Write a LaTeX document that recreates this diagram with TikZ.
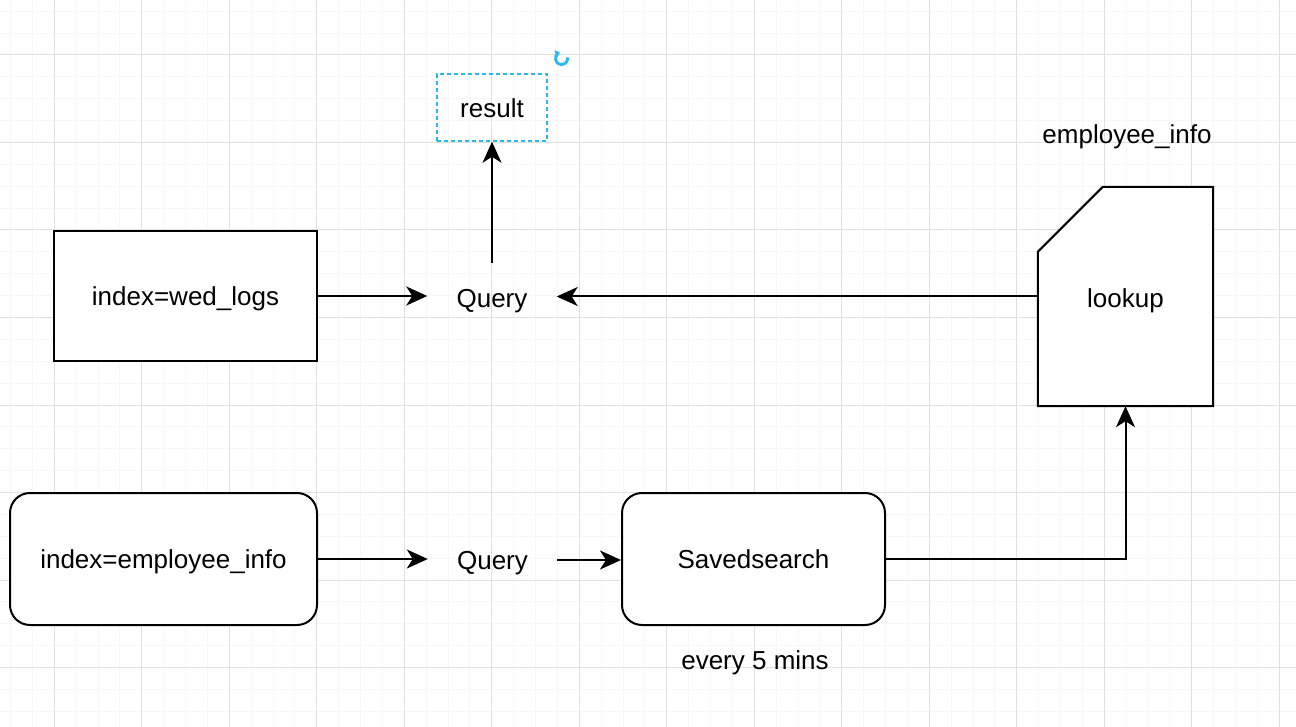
\documentclass[tikz,border=0pt]{standalone}
\usepackage{fontspec}
\setmainfont{Liberation Sans}
\usetikzlibrary{arrows.meta,calc}
\definecolor{gridminor}{HTML}{F7F7F7}
\definecolor{gridmajor}{HTML}{E0E0E0}
\definecolor{selblue}{HTML}{29B6F2}
\tikzset{
  lbl/.style={font=\fontsize{26}{30}\selectfont, text height=25pt, text depth=5.5pt, inner sep=0pt},
  box/.style={lbl, draw, line width=2pt},
  conn/.style={line width=2pt, -{Stealth[length=21pt,width=19pt,inset=6pt]}},
  qnode/.style={lbl, minimum width=129pt, minimum height=70pt},
}
\begin{document}
\begin{tikzpicture}[x=1pt,y=-1pt]
\useasboundingbox (0,0) rectangle (1296,727);
\fill[white] (0,0) rectangle (1296,727);
% grid
\foreach \i in {0,...,59} {
  \draw[gridminor, line width=1pt] ({10.55+21.875*\i},0) -- ({10.55+21.875*\i},727);
}
\foreach \j in {0,...,33} {
  \draw[gridminor, line width=1pt] (0,{11.25+21.875*\j}) -- (1296,{11.25+21.875*\j});
}
\foreach \i in {0,...,14} {
  \draw[gridmajor, line width=1pt] ({54.3+87.5*\i},0) -- ({54.3+87.5*\i},727);
}
\foreach \j in {0,...,7} {
  \draw[gridmajor, line width=1pt] (0,{55+87.5*\j}) -- (1296,{55+87.5*\j});
}
% nodes
\node[box, fill=white, minimum width=263pt, minimum height=130pt] (wed) at (185.5,296) {index=wed\_logs};
\node[qnode] (q1) at (492,298) {Query};
\node[lbl, draw=selblue, line width=1.5pt, dash pattern=on 4pt off 3pt, minimum width=110pt, minimum height=67pt] (result) at (492,107.5) {result};
\coordinate (rot) at (561.5,58.5);
\node[lbl, minimum width=175pt, minimum height=219pt] (lookup) at (1125.5,296.5) {};
\draw[line width=2pt, fill=white] (lookup.south west) -- (lookup.south east) -- (lookup.north east)
  -- ($(lookup.north west)+(65pt,0pt)$) -- ($(lookup.north west)+(0pt,-65pt)$) -- cycle;
\node[lbl] (lookuptxt) at (1125.5,298) {lookup};
\node[lbl] (empinfo) at (1127,134) {employee\_info};
\node[box, fill=white, rounded corners=20pt, minimum width=307pt, minimum height=132pt] (emp) at (163.5,559) {index=employee\_info};
\node[qnode] (q2) at (492.5,560) {Query};
\node[box, fill=white, rounded corners=20pt, minimum width=263pt, minimum height=132pt] (saved) at (753.5,559) {Savedsearch};
\node[lbl] (every) at (755,660) {every 5 mins};
% rotate icon
\draw[selblue, line width=2.8pt, -{Triangle[length=4.5pt,width=8pt]}] ([shift={(10:6pt)}]rot) arc[start angle=10, end angle=-255, radius=6pt];
% connectors
\draw[conn] (wed.east) -- (wed.east -| q1.west);
\draw[conn] (q1.north) -- (q1.north |- result.south);
\draw[conn] (lookup.west) -- (lookup.west -| q1.east);
\draw[conn] (emp.east) -- (emp.east -| q2.west);
\draw[conn] (q2.east) -- (q2.east -| saved.west);
\draw[conn] (saved.east) -| (lookup.south);
\end{tikzpicture}
\end{document}
